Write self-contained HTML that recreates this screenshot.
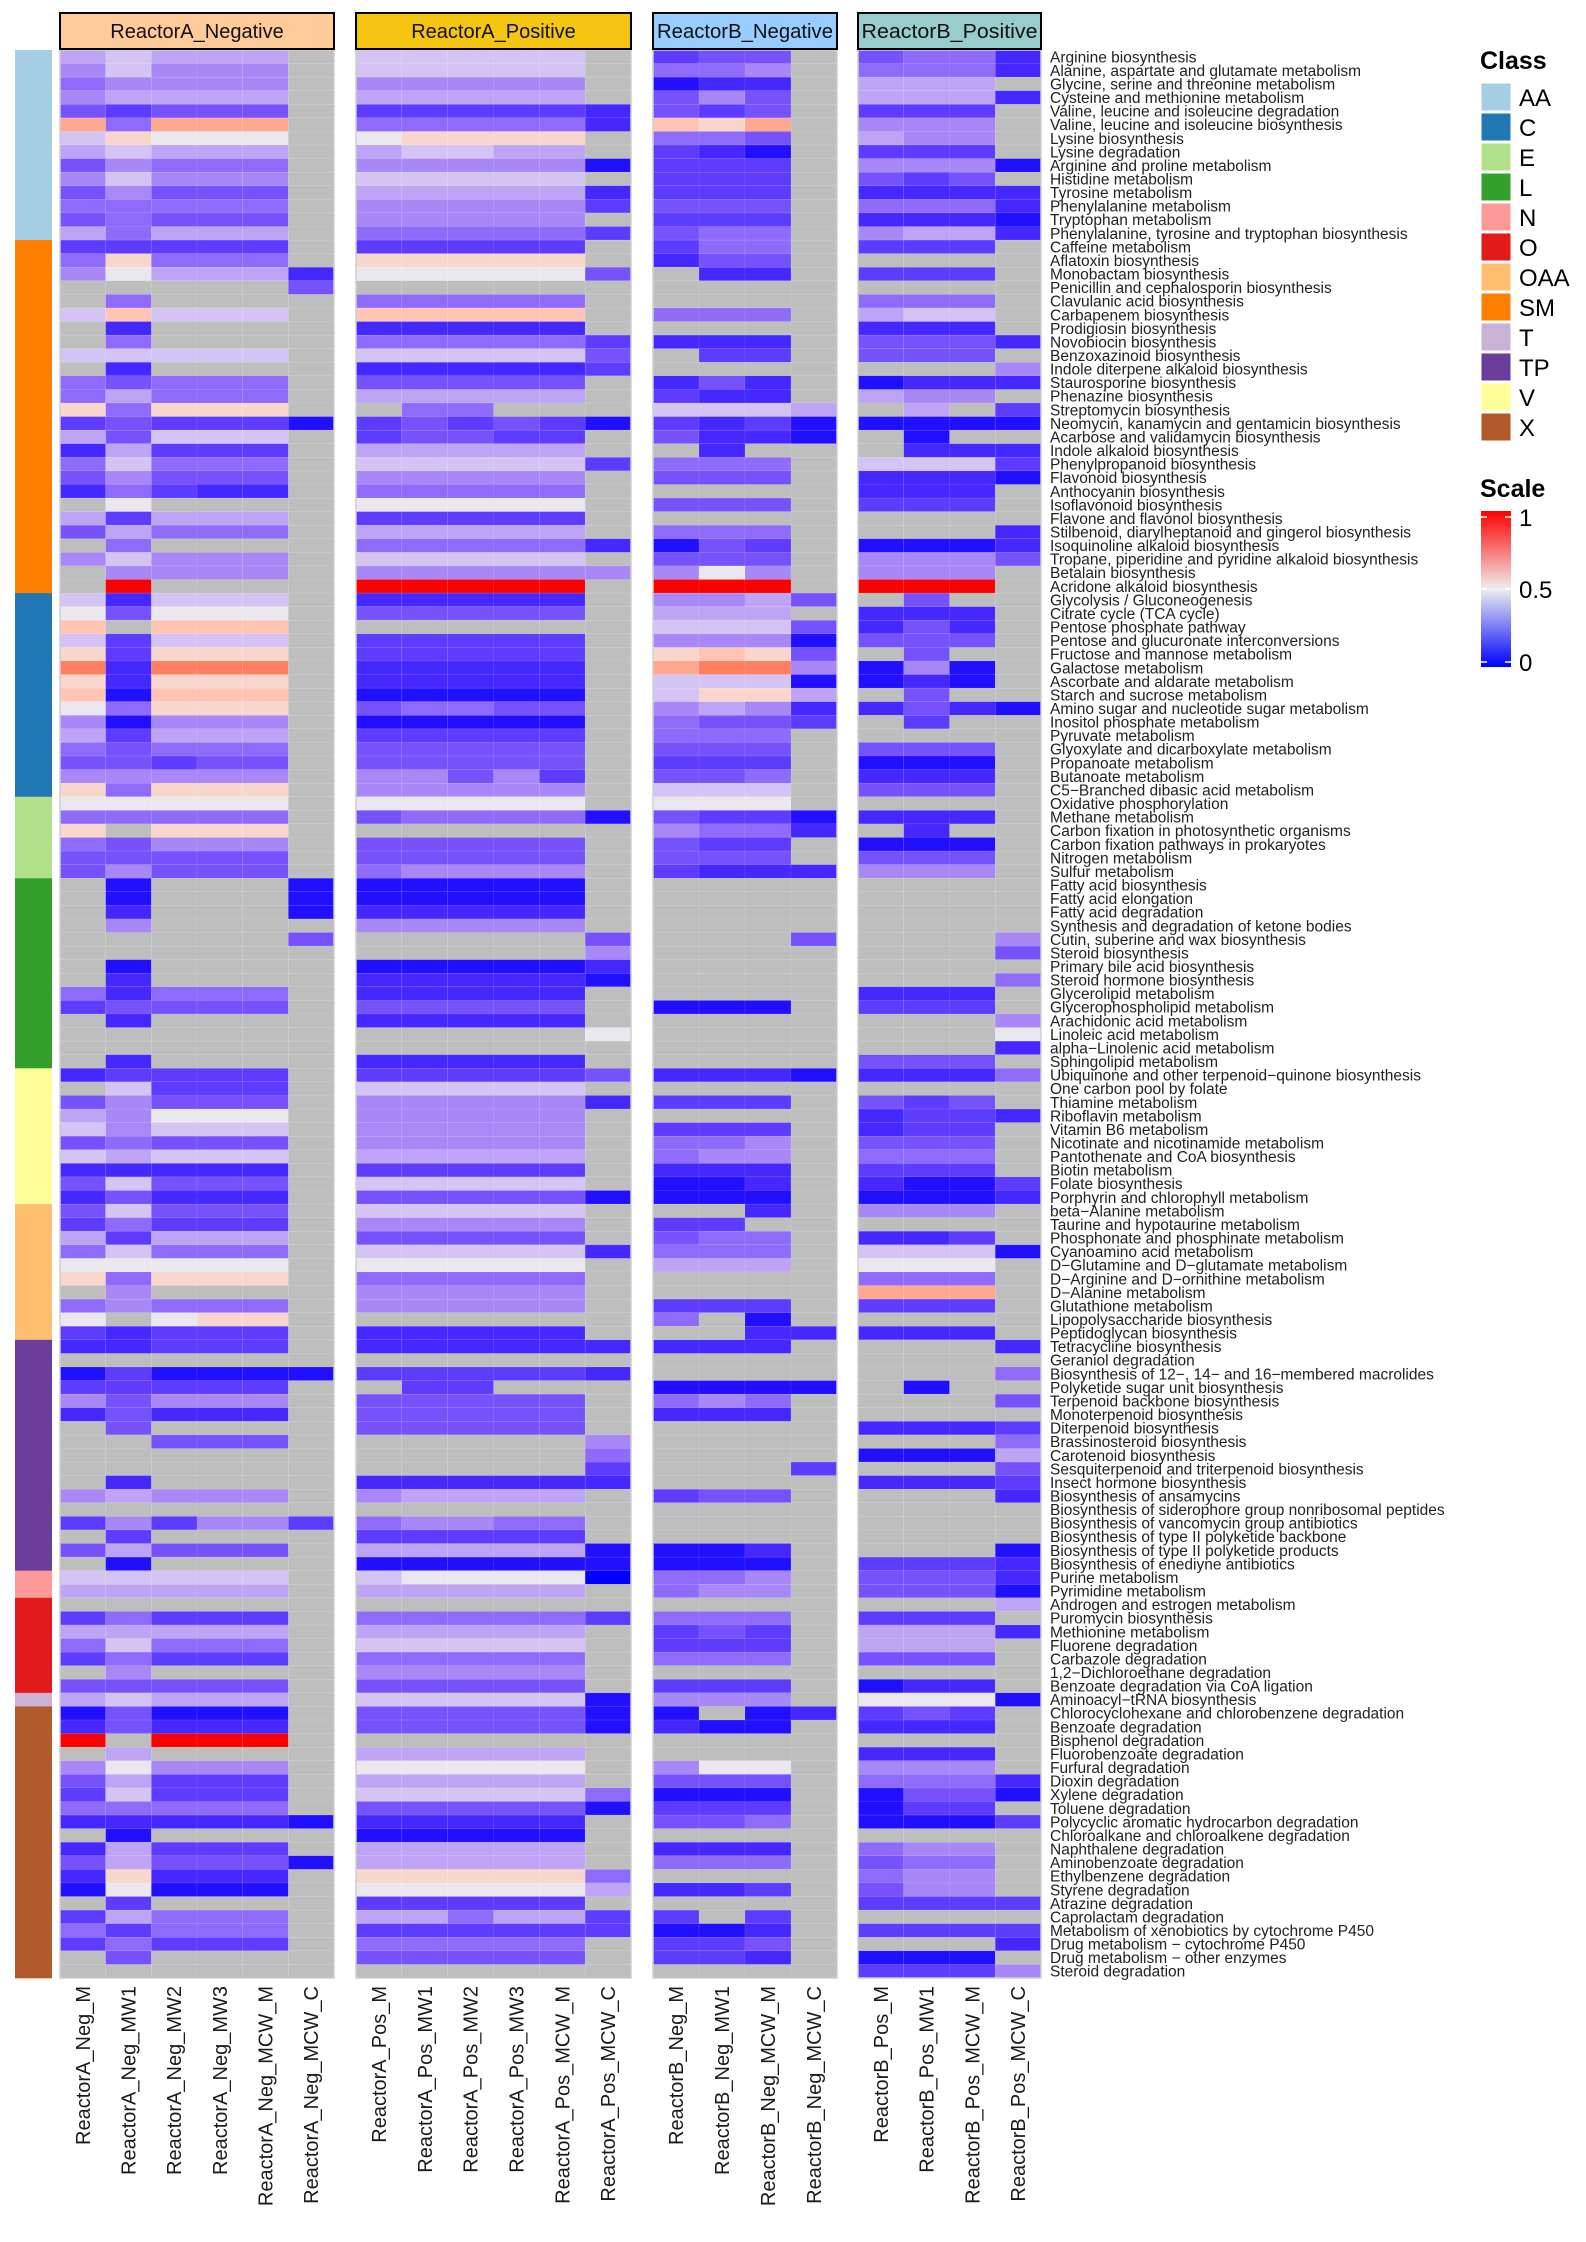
<!DOCTYPE html>
<html><head><meta charset="utf-8"><style>
html,body{margin:0;padding:0;background:#fff;}
svg{display:block;}
</style></head><body>
<svg id="s" width="1586" height="2242" xmlns="http://www.w3.org/2000/svg" font-family="Liberation Sans, Arial, sans-serif"></svg>
<script>
var labels=["Arginine biosynthesis","Alanine, aspartate and glutamate metabolism","Glycine, serine and threonine metabolism","Cysteine and methionine metabolism","Valine, leucine and isoleucine degradation","Valine, leucine and isoleucine biosynthesis","Lysine biosynthesis","Lysine degradation","Arginine and proline metabolism","Histidine metabolism","Tyrosine metabolism","Phenylalanine metabolism","Tryptophan metabolism","Phenylalanine, tyrosine and tryptophan biosynthesis","Caffeine metabolism","Aflatoxin biosynthesis","Monobactam biosynthesis","Penicillin and cephalosporin biosynthesis","Clavulanic acid biosynthesis","Carbapenem biosynthesis","Prodigiosin biosynthesis","Novobiocin biosynthesis","Benzoxazinoid biosynthesis","Indole diterpene alkaloid biosynthesis","Staurosporine biosynthesis","Phenazine biosynthesis","Streptomycin biosynthesis","Neomycin, kanamycin and gentamicin biosynthesis","Acarbose and validamycin biosynthesis","Indole alkaloid biosynthesis","Phenylpropanoid biosynthesis","Flavonoid biosynthesis","Anthocyanin biosynthesis","Isoflavonoid biosynthesis","Flavone and flavonol biosynthesis","Stilbenoid, diarylheptanoid and gingerol biosynthesis","Isoquinoline alkaloid biosynthesis","Tropane, piperidine and pyridine alkaloid biosynthesis","Betalain biosynthesis","Acridone alkaloid biosynthesis","Glycolysis / Gluconeogenesis","Citrate cycle (TCA cycle)","Pentose phosphate pathway","Pentose and glucuronate interconversions","Fructose and mannose metabolism","Galactose metabolism","Ascorbate and aldarate metabolism","Starch and sucrose metabolism","Amino sugar and nucleotide sugar metabolism","Inositol phosphate metabolism","Pyruvate metabolism","Glyoxylate and dicarboxylate metabolism","Propanoate metabolism","Butanoate metabolism","C5\u2212Branched dibasic acid metabolism","Oxidative phosphorylation","Methane metabolism","Carbon fixation in photosynthetic organisms","Carbon fixation pathways in prokaryotes","Nitrogen metabolism","Sulfur metabolism","Fatty acid biosynthesis","Fatty acid elongation","Fatty acid degradation","Synthesis and degradation of ketone bodies","Cutin, suberine and wax biosynthesis","Steroid biosynthesis","Primary bile acid biosynthesis","Steroid hormone biosynthesis","Glycerolipid metabolism","Glycerophospholipid metabolism","Arachidonic acid metabolism","Linoleic acid metabolism","alpha\u2212Linolenic acid metabolism","Sphingolipid metabolism","Ubiquinone and other terpenoid\u2212quinone biosynthesis","One carbon pool by folate","Thiamine metabolism","Riboflavin metabolism","Vitamin B6 metabolism","Nicotinate and nicotinamide metabolism","Pantothenate and CoA biosynthesis","Biotin metabolism","Folate biosynthesis","Porphyrin and chlorophyll metabolism","beta\u2212Alanine metabolism","Taurine and hypotaurine metabolism","Phosphonate and phosphinate metabolism","Cyanoamino acid metabolism","D\u2212Glutamine and D\u2212glutamate metabolism","D\u2212Arginine and D\u2212ornithine metabolism","D\u2212Alanine metabolism","Glutathione metabolism","Lipopolysaccharide biosynthesis","Peptidoglycan biosynthesis","Tetracycline biosynthesis","Geraniol degradation","Biosynthesis of 12\u2212, 14\u2212 and 16\u2212membered macrolides","Polyketide sugar unit biosynthesis","Terpenoid backbone biosynthesis","Monoterpenoid biosynthesis","Diterpenoid biosynthesis","Brassinosteroid biosynthesis","Carotenoid biosynthesis","Sesquiterpenoid and triterpenoid biosynthesis","Insect hormone biosynthesis","Biosynthesis of ansamycins","Biosynthesis of siderophore group nonribosomal peptides","Biosynthesis of vancomycin group antibiotics","Biosynthesis of type II polyketide backbone","Biosynthesis of type II polyketide products","Biosynthesis of enediyne antibiotics","Purine metabolism","Pyrimidine metabolism","Androgen and estrogen metabolism","Puromycin biosynthesis","Methionine metabolism","Fluorene degradation","Carbazole degradation","1,2\u2212Dichloroethane degradation","Benzoate degradation via CoA ligation","Aminoacyl\u2212tRNA biosynthesis","Chlorocyclohexane and chlorobenzene degradation","Benzoate degradation","Bisphenol degradation","Fluorobenzoate degradation","Furfural degradation","Dioxin degradation","Xylene degradation","Toluene degradation","Polycyclic aromatic hydrocarbon degradation","Chloroalkane and chloroalkene degradation","Naphthalene degradation","Aminobenzoate degradation","Ethylbenzene degradation","Styrene degradation","Atrazine degradation","Caprolactam degradation","Metabolism of xenobiotics by cytochrome P450","Drug metabolism \u2212 cytochrome P450","Drug metabolism \u2212 other enzymes","Steroid degradation"];
var D=[
"67666g 77777g 233g 3441",
"57555g 77777g 445g 4441",
"45555g 55555g 011g 666g",
"56666g 66666g 353g 6661",
"32333g 222221 323g 222g",
"b4bbbg 444441 a9bg 555g",
"79888g 89999g 443g 655g",
"67666g 67766g 210g 222g",
"35444g 555550 222g 5550",
"57555g 77777g 222g 323g",
"35333g 666661 222g 1111",
"44444g 555552 333g 4441",
"34333g 55555g 222g 1110",
"64666g 444442 344g 5661",
"22222g 22222g 244g 222g",
"49444g 99999g 133g gggg",
"586661 888883 g11g 222g",
"ggggg3 gggggg gggg gggg",
"g4gggg 44444g gggg 444g",
"7a777g aaaaag 444g 677g",
"g1gggg 11111g gggg 111g",
"g4gggg 444442 111g 3331",
"77777g 777773 g22g 333g",
"g1gggg 111112 gggg ggg5",
"43444g 33333g 131g 0111",
"46444g 66666g 211g 655g",
"94999g g44ggg 7776 g6g2",
"232220 232320 2120 0000",
"63777g 23322g 3110 g0gg",
"16222g 66666g g1gg g111",
"47444g 777772 444g 7772",
"35333g 55555g 333g 1110",
"14211g 44444g gggg 111g",
"g8gggg 88888g 333g 222g",
"62666g 22222g gggg gggg",
"36444g 66666g 444g ggg1",
"g4gggg 444441 032g 0001",
"57555g 77777g 333g 5553",
"g5555g 555555 585g 555g",
"grgggg rrrrrg rrrg rrrg",
"71777g 11111g 5563 g3gg",
"83888g 33333g 666g 111g",
"agaaag gggggg 7773 131g",
"72777g 22222g 5550 333g",
"92999g 22222g 9a93 g3gg",
"c1cccg 11111g bcc5 050g",
"91999g 11111g 7770 010g",
"a0aaag 00000g 7996 g3gg",
"84999g 34433g 5651 1310",
"50555g 00000g 4332 g2gg",
"62666g 22222g 444g gggg",
"43444g 33333g 333g 333g",
"33233g 33333g 222g 000g",
"55555g 55352g 334g 111g",
"94999g 55555g 777g 333g",
"88888g 88888g 888g gggg",
"44444g 344440 3220 111g",
"9g999g gggggg 5441 g1gg",
"43555g 33333g 322g 000g",
"33333g 33333g 333g 333g",
"35333g 45555g 2111 555g",
"g0ggg0 00000g gggg gggg",
"g0ggg0 00000g gggg gggg",
"g1ggg0 11111g gggg gggg",
"g5gggg 55555g gggg gggg",
"ggggg3 ggggg3 ggg3 ggg5",
"gggggg ggggg5 gggg ggg3",
"g0gggg 000001 gggg gggg",
"g1gggg 111110 gggg ggg4",
"41444g 11111g gggg 111g",
"23333g 33333g 000g 222g",
"g1gggg 11111g gggg ggg5",
"gggggg ggggg8 gggg ggg8",
"gggggg gggggg gggg ggg1",
"g1gggg 11111g gggg 333g",
"12222g 222223 1110 1114",
"g7222g 77777g gggg gggg",
"35333g 555551 222g 323g",
"65888g 55555g gggg 1221",
"75777g 55555g 222g 122g",
"34333g 55555g 445g 333g",
"76777g 66666g 455g 444g",
"11111g 22222g 111g 222g",
"37333g 77777g 001g 1002",
"13111g 333330 000g 0001",
"37333g 77777g gg1g 555g",
"24222g 55555g 22gg gggg",
"62666g 33333g 344g 112g",
"47444g 777771 444g 7770",
"88888g 88888g 666g 888g",
"94999g 44444g gggg 444g",
"g5gggg 55555g gggg bbbg",
"45444g 55555g 222g 222g",
"8g899g gggggg 4g0g gggg",
"21222g 11111g gg11 111g",
"11222g 111111 111g ggg1",
"gggggg gggggg gggg gggg",
"020000 222221 gggg ggg4",
"22222g g22ggg 0000 g0gg",
"53555g 33333g 454g ggg3",
"13111g 33333g 111g gggg",
"g3gggg 33333g gggg 1112",
"gg333g ggggg5 gggg ggg4",
"gggggg ggggg4 gggg 0006",
"gggggg ggggg2 ggg2 ggg3",
"g1gggg 111111 gggg 1112",
"56555g 56666g 233g ggg1",
"gggggg gggggg gggg gggg",
"252552 45544g gggg gggg",
"g2gggg 22222g gggg gggg",
"36333g 666660 001g ggg0",
"g0gggg 000000 000g 2221",
"77777g 78888B 445g 3331",
"66666g 66666g 455g 3330",
"gggggg gggggg gggg ggg6",
"24222g 444442 444g 222g",
"66666g 66666g 232g 6661",
"47444g 77777g 222g 666g",
"24222g 44444g 444g 333g",
"g5gggg 55555g gggg gggg",
"33333g 33333g 222g 011g",
"67666g 777770 555g 8880",
"03000g 333330 0g01 232g",
"13111g 333330 100g 111g",
"rgrrrg gggggg gggg gggg",
"g6gggg 66666g gggg 111g",
"58555g 88888g 588g 555g",
"36222g 66666g 333g 4441",
"27222g 777774 000g 0330",
"44444g 333330 222g 022g",
"111110 11111g 334g 0002",
"g0gggg 00000g gggg gggg",
"16222g 66666g 111g 455g",
"363330 66666g 444g 344g",
"19111g 999994 gggg 455g",
"08000g 888886 112g 355g",
"g2gggg 22222g gggg 2222",
"26444g 664662 2g2g gggg",
"42444g 222222 001g 2222",
"24222g 44444g 223g ggg1",
"g3gggg 33333g 221g 000g",
"gggggg gggggg gggg 2225"
];
var C={'0':'#2010ff','1':'#4428ff','2':'#5e3cff','3':'#7652fd','4':'#8e6bfa','5':'#a888f7','6':'#bea4f5','7':'#d4c4f3','8':'#ebe7ee','9':'#f9d6cc','a':'#ffc4b4','b':'#ffa890','c':'#ff7f60','r':'#ff0000','B':'#0000ff','g':'#bebebe'};
var classes=[["#A6CEE3",14],["#FF7F00",26],["#1F78B4",15],["#B2DF8A",6],["#33A02C",14],["#FFFF99",10],["#FDBF6F",10],["#6A3D9A",17],["#FB9A99",2],["#E31A1C",7],["#CAB2D6",1],["#B15928",20]];
var panels=[{x:60,w:274,n:6,fill:"#FFCC99",t:"ReactorA_Negative",names:["ReactorA_Neg_M","ReactorA_Neg_MW1","ReactorA_Neg_MW2","ReactorA_Neg_MW3","ReactorA_Neg_MCW_M","ReactorA_Neg_MCW_C"]},
{x:356,w:275,n:6,fill:"#F5C512",t:"ReactorA_Positive",names:["ReactorA_Pos_M","ReactorA_Pos_MW1","ReactorA_Pos_MW2","ReactorA_Pos_MW3","ReactorA_Pos_MCW_M","ReactorA_Pos_MCW_C"]},
{x:653,w:184,n:4,fill:"#99CCFF",t:"ReactorB_Negative",names:["ReactorB_Neg_M","ReactorB_Neg_MW1","ReactorB_Neg_MCW_M","ReactorB_Neg_MCW_C"]},
{x:858,w:183,n:4,fill:"#99CCCC",t:"ReactorB_Positive",names:["ReactorB_Pos_M","ReactorB_Pos_MW1","ReactorB_Pos_MCW_M","ReactorB_Pos_MCW_C"]}];
var y0=50,rh=(1978-50)/142,h=[];
var yy=y0;
classes.forEach(function(c){h.push('<rect x="15" y="'+yy.toFixed(2)+'" width="37" height="'+(c[1]*rh+0.3).toFixed(2)+'" fill="'+c[0]+'"/>');yy+=c[1]*rh;});
for(var r=0;r<142;r++){
  var s=(D[r]||"").replace(/ /g,"");
  while(s.length<20)s+="g";
  var k=0,y=y0+r*rh;
  panels.forEach(function(p){
    var cw=p.w/p.n;
    for(var i=0;i<p.n;i++){var ch=s[k++];h.push('<rect x="'+(p.x+i*cw).toFixed(2)+'" y="'+y.toFixed(2)+'" width="'+cw.toFixed(2)+'" height="'+rh.toFixed(2)+'" fill="'+(C[ch]||'#bebebe')+'" stroke="#ffffff" stroke-opacity="0.12" stroke-width="0.6"/>');}
  });
  h.push('<text x="1050" y="'+(y+rh/2+5.5).toFixed(2)+'" font-size="15.5" fill="#222">'+labels[r].replace(/&/g,'&amp;')+'</text>');
}
panels.forEach(function(p){
  h.push('<rect x="'+p.x+'" y="50" width="'+p.w+'" height="1928" fill="none" stroke="#cfcfcf" stroke-width="1.5"/>');
  h.push('<rect x="'+p.x+'" y="13" width="'+p.w+'" height="36" fill="'+p.fill+'" stroke="#000" stroke-width="2"/>');
  var tl=p.n==4?' textLength="176" lengthAdjust="spacingAndGlyphs"':'';
  h.push('<text x="'+(p.x+p.w/2)+'" y="38" font-size="20" text-anchor="middle" fill="#111"'+tl+'>'+p.t+'</text>');
  var cw=p.w/p.n;
  for(var i=0;i<p.n;i++){var cx=p.x+(i+0.5)*cw+7;
    h.push('<text transform="translate('+cx.toFixed(1)+',1986) rotate(-90)" font-size="20" text-anchor="end" fill="#1a1a1a">'+p.names[i]+'</text>');}
});
h.push('<text x="1480" y="69" font-size="25" font-weight="bold" fill="#000">Class</text>');
var ln=["AA","C","E","L","N","O","OAA","SM","T","TP","V","X"],lc=["#A6CEE3","#1F78B4","#B2DF8A","#33A02C","#FB9A99","#E31A1C","#FDBF6F","#FF7F00","#CAB2D6","#6A3D9A","#FFFF99","#B15928"];
for(var i=0;i<12;i++){var by=83+i*30;h.push('<rect x="1481" y="'+by+'" width="30" height="28" fill="'+lc[i]+'" stroke="#fff" stroke-width="1"/>');h.push('<text x="1519" y="'+(by+23)+'" font-size="24" fill="#000">'+ln[i]+'</text>');}
h.push('<text x="1480" y="497" font-size="25" font-weight="bold" fill="#000">Scale</text>');
h.push('<defs><linearGradient id="g" x1="0" y1="0" x2="0" y2="1"><stop offset="0" stop-color="#ff0000"/><stop offset="0.5" stop-color="#eeeeee"/><stop offset="1" stop-color="#0000ff"/></linearGradient></defs>');
h.push('<rect x="1481" y="511" width="30" height="156" fill="url(#g)"/>');
[[517,"1"],[589,"0.5"],[662,"0"]].forEach(function(t){h.push('<line x1="1481" x2="1487" y1="'+t[0]+'" y2="'+t[0]+'" stroke="#fff" stroke-width="1.5"/><line x1="1505" x2="1511" y1="'+t[0]+'" y2="'+t[0]+'" stroke="#fff" stroke-width="1.5"/>');h.push('<text x="1519" y="'+(t[0]+9)+'" font-size="24" fill="#000">'+t[1]+'</text>');});
document.getElementById('s').innerHTML=h.join('');
</script>
</body></html>
